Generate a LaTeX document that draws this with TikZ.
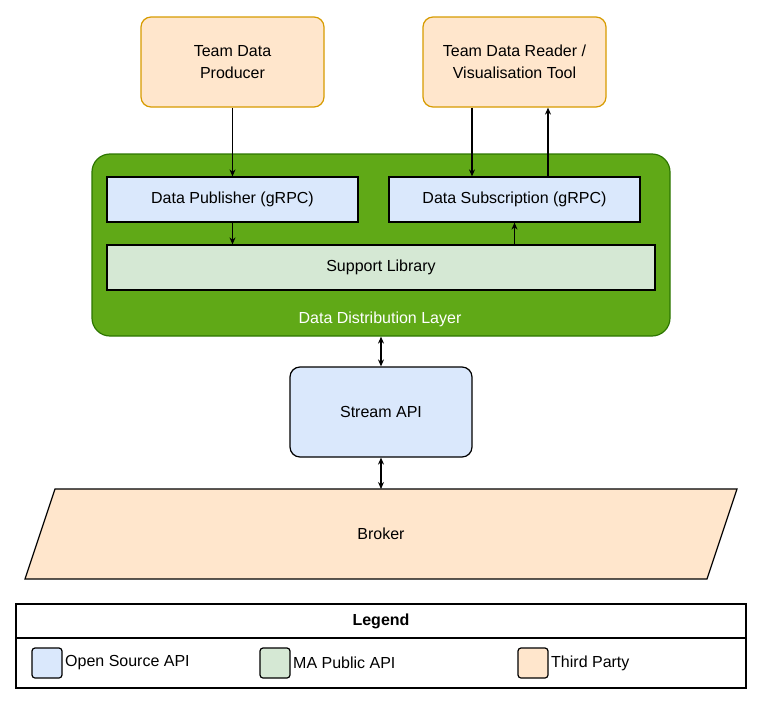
\documentclass[tikz,border=0pt]{standalone}
\usepackage{fontspec}
\setmainfont{Liberation Sans}
\usetikzlibrary{positioning,arrows.meta}
\definecolor{tpfill}{HTML}{FFE6CC}
\definecolor{tpline}{HTML}{D79B00}
\definecolor{osfill}{HTML}{DAE8FC}
\definecolor{mafill}{HTML}{D5E8D4}
\definecolor{ddlfill}{HTML}{60A917}
\definecolor{ddlline}{HTML}{2D7600}
\tikzset{
party/.style = {draw=tpline, fill=tpfill, rounded corners=10pt, minimum width=183pt, minimum height=90pt, align=center},
api/.style   = {draw, fill=osfill, minimum width=251pt, minimum height=45pt},
swatch/.style = {draw, fill=#1, rounded corners=3pt, minimum width=30pt, minimum height=30pt},
>={Stealth[length=7pt,width=6pt]}
}
\begin{document}
\begin{tikzpicture}[x=1pt, y=-1pt, font=\fontsize{16}{22}\selectfont, inner sep=0pt, line width=1.2pt]
  \useasboundingbox (0,0) rectangle (764,704);
  % layer background
  \node [draw=ddlline, fill=ddlfill, rounded corners=18pt, minimum width=578pt, minimum height=182pt] (layer) at (381,245) {};
  \node [text=white] (layerlbl) at (380,319) {Data Distribution Layer};

  \node [party] (producer) at (232.5,62) {Team Data\\Producer};
  \node [party] (reader)   at (514.5,62) {Team Data Reader /\\Visualisation Tool};
  \node [api] (pub) at (232.5,199.5) {Data Publisher (gRPC)};
  \node [api] (sub) at (514.5,199.5) {Data Subscription (gRPC)};
  \node [draw, fill=mafill, minimum width=548pt, minimum height=45pt] (support) at (381,267.5) {Support Library};
  \node [draw, fill=osfill, rounded corners=10pt, minimum width=182pt, minimum height=90pt] (stream) at (381,412) {Stream API};
  % broker parallelogram
  \coordinate (btl) at (55,489);
  \coordinate (btr) at (737,489);
  \coordinate (bbr) at (707,579);
  \coordinate (bbl) at (25,579);
  \draw [fill=tpfill] (btl) -- (btr) -- (bbr) -- (bbl) -- cycle;
  \node (broker) at (381,534) {Broker};
  \coordinate (btop) at (381,489);

  % connectors
  \draw [->] (producer.south) -- (pub.north);
  \draw [->] (pub.south) -- (pub.south |- support.north);
  \draw [->] (support.north -| sub.south) -- (sub.south);
  \draw [->] ([xshift=-42.5pt]reader.south) -- ([xshift=-42.5pt]sub.north);
  \draw [->] ([xshift=33.5pt]sub.north) -- ([xshift=33.5pt]reader.south);
  \draw [<->] (layer.south -| stream.north) -- (stream.north);
  \draw [<->] (stream.south) -- (btop);

  % legend
  \node [draw, minimum width=730pt, minimum height=84pt] (legend) at (381,646) {};
  \draw (legend.west |- 0,638) -- (legend.east |- 0,638);
  \node [font=\fontsize{16}{22}\selectfont\bfseries] (legendlbl) at (381,621) {Legend};
  \node [swatch=osfill] (swos) at (47,663) {};
  \node [right=2pt of swos] (txos) {Open Source API};
  \node [swatch=mafill] (swma) at (275,663) {};
  \node [right=2pt of swma] (txma) {MA Public API};
  \node [swatch=tpfill] (swtp) at (533,663) {};
  \node [right=2pt of swtp] (txtp) {Third Party};
\end{tikzpicture}
\end{document}
